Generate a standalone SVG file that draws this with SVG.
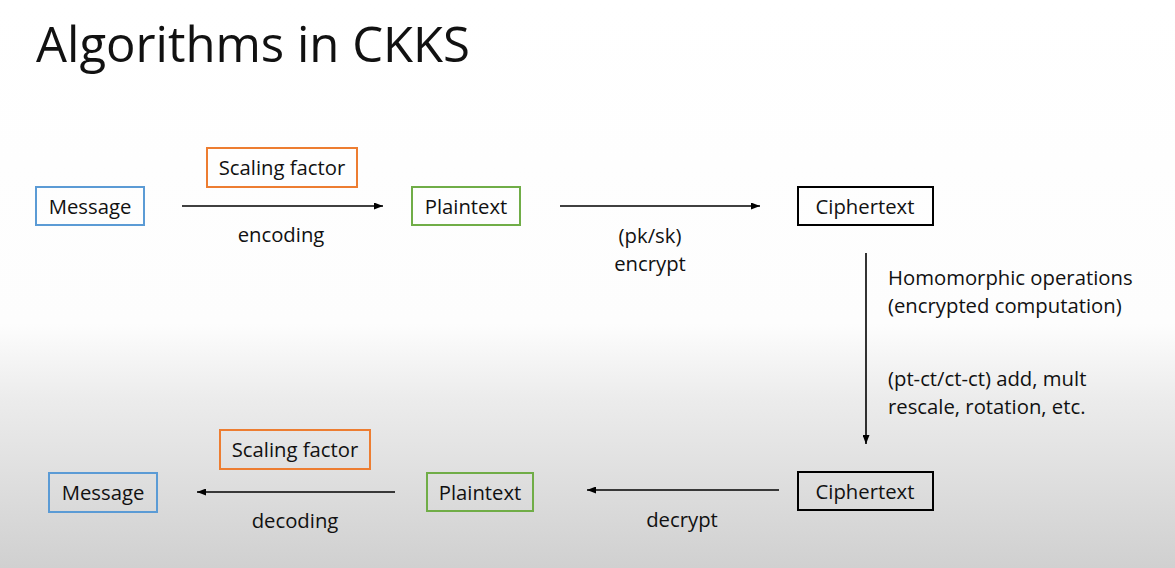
<svg xmlns="http://www.w3.org/2000/svg" width="1175" height="568" viewBox="0 0 1175 568">
<defs>
<linearGradient id="bg" x1="0" y1="0" x2="0" y2="1">
<stop offset="0" stop-color="#ffffff"/>
<stop offset="0.57" stop-color="#fdfdfd"/>
<stop offset="0.7" stop-color="#ececec"/>
<stop offset="1" stop-color="#d0d0d0"/>
</linearGradient>
<marker id="ah" markerWidth="9" markerHeight="7" refX="9" refY="3.5" orient="auto" markerUnits="userSpaceOnUse">
<path d="M0,0 L9,3.5 L0,7 z" fill="#000"/>
</marker>
</defs>
<style>
text{font-family:"Open Sans",Lato,"Liberation Sans",sans-serif;fill:#111;font-size:20.3px}
.lbl{text-anchor:middle;dominant-baseline:central}
.box{fill:none;stroke-width:2}
.blue{stroke:#5b9bd5}.orange{stroke:#ed7d31}.green{stroke:#70ad47}.black{stroke:#000}
.conn{stroke:#000;stroke-width:1.6;fill:none;marker-end:url(#ah)}
</style>
<rect width="1175" height="568" fill="url(#bg)"/>
<text x="36" y="62" style="font-size:49px" fill="#000" textLength="434" lengthAdjust="spacingAndGlyphs">Algorithms in CKKS</text>
<g id="connectors">
<line class="conn" x1="182" y1="206" x2="383" y2="206"/>
<line class="conn" x1="560" y1="206" x2="760" y2="206"/>
<line class="conn" x1="866" y1="253" x2="866" y2="444"/>
<line class="conn" x1="779" y1="490" x2="587" y2="490"/>
<line class="conn" x1="395" y1="492" x2="197" y2="492"/>
<text class="lbl" x="281" y="234">encoding</text>
<text class="lbl" x="650" y="235">(pk/sk)</text>
<text class="lbl" x="650" y="263">encrypt</text>
<text x="888" y="285">Homomorphic operations</text>
<text x="888" y="313">(encrypted computation)</text>
<text x="888" y="386">(pt-ct/ct-ct) add, mult</text>
<text x="888" y="414">rescale, rotation, etc.</text>
<text class="lbl" x="682" y="519">decrypt</text>
<text class="lbl" x="295" y="520">decoding</text>
</g>
<g id="message1"><rect class="box blue" x="36" y="187" width="108" height="38"/><text class="lbl" x="90" y="206">Message</text></g>
<g id="scaling1"><rect class="box orange" x="207" y="148" width="150" height="39"/><text class="lbl" x="282" y="167">Scaling factor</text></g>
<g id="plaintext1"><rect class="box green" x="412" y="187" width="108" height="38"/><text class="lbl" x="466" y="206">Plaintext</text></g>
<g id="ciphertext1"><rect class="box black" x="798" y="187" width="135" height="38"/><text class="lbl" x="865" y="206">Ciphertext</text></g>
<g id="ciphertext2"><rect class="box black" x="798" y="472" width="135" height="38"/><text class="lbl" x="865" y="491">Ciphertext</text></g>
<g id="plaintext2"><rect class="box green" x="427" y="473" width="106" height="38"/><text class="lbl" x="480" y="492">Plaintext</text></g>
<g id="scaling2"><rect class="box orange" x="220" y="430" width="150" height="39"/><text class="lbl" x="295" y="449">Scaling factor</text></g>
<g id="message2"><rect class="box blue" x="49" y="473" width="108" height="39"/><text class="lbl" x="103" y="492">Message</text></g>
</svg>
